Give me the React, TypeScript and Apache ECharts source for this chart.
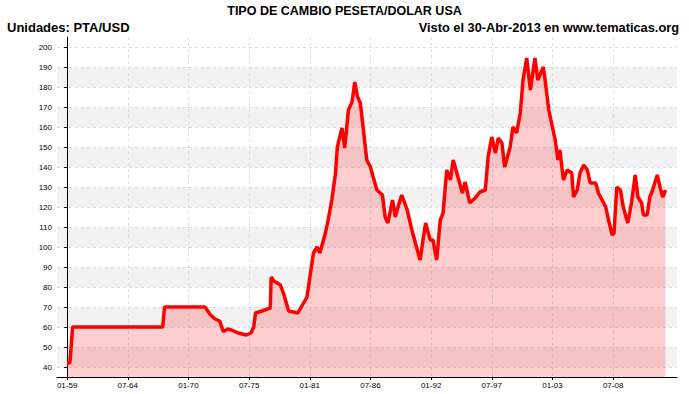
import React, { useEffect, useRef } from 'react';
import * as echarts from 'echarts';

const dates = [
  '1959-01','1959-04','1959-07','1967-09','1967-11','1971-07','1972-01','1972-06','1972-11','1973-03',
  '1973-08','1973-12','1974-07','1975-04','1975-09','1975-12','1976-02','1976-09','1977-06','1977-07',
  '1977-10','1978-05','1978-09','1979-02','1979-12','1980-05','1980-10','1981-01','1981-05','1981-09',
  '1981-12','1982-06','1982-09','1983-01','1983-05','1983-07','1983-12','1984-03','1984-07','1984-11',
  '1985-02','1985-05','1985-08','1985-11','1986-03','1986-07','1986-10','1987-02','1987-08','1987-11',
  '1988-02','1988-07','1988-10','1989-01','1989-05','1989-11','1990-04','1990-10','1991-01','1991-07',
  '1991-12','1992-03','1992-07','1992-11','1993-02','1993-06','1993-10','1994-01','1994-05','1994-11',
  '1995-02','1995-07','1996-01','1996-06','1996-12','1997-03','1997-07','1997-11','1998-02','1998-06',
  '1998-09','1999-03','1999-06','1999-10','2000-02','2000-05','2000-09','2001-01','2001-06','2001-09',
  '2002-03','2002-05','2002-09','2002-12','2003-04','2003-07','2003-09','2004-01','2004-05','2004-10',
  '2004-12','2005-04','2005-07','2005-11','2006-03','2006-06','2006-12','2007-03','2007-07','2007-11',
  '2008-02','2008-06','2008-08','2008-11','2009-03','2009-06','2009-11','2010-03','2010-07','2010-10',
  '2011-02','2011-04','2011-08','2011-11','2012-02','2012-07','2012-10','2013-01','2013-04'
];

const values = [
  42, 42, 60, 60, 70, 70, 66, 64, 63, 57.7,
  59, 58.5, 57, 56, 57, 60, 67, 68, 69.5, 85,
  83, 81, 76, 68, 67, 71, 75, 84.5, 97, 100,
  97, 107, 113.5, 123.5, 137, 150, 159.5, 149.5, 168.5, 172.5,
  182.5, 175, 172, 160, 143.5, 140, 135, 128.5, 126, 115,
  112, 123.5, 115, 120, 126, 118.5, 108.5, 98.5, 93.5, 112,
  103.5, 103.5, 93.5, 113.5, 117, 138.5, 133.5, 143.5, 137, 127,
  132.5, 122, 124.5, 127.5, 128.5, 145, 155, 147, 154.5, 152,
  140, 150, 160, 157, 167, 183.5, 194.5, 178.5, 194.5, 183.5,
  190, 183.5, 168.5, 162, 153.5, 143.5, 148.5, 133.5, 138.5, 137,
  125, 128.5, 137, 141, 138.5, 132, 132, 127, 123.5, 120,
  113.5, 106, 107, 130, 128.5, 120, 112, 122, 136, 125,
  122, 116, 116, 125, 128.5, 136, 130, 125, 128.5
];

const yTicks = [40, 50, 60, 70, 80, 90, 100, 110, 120, 130, 140, 150, 160, 170, 180, 190, 200];
const xTickLabels = ['01-59', '07-64', '01-70', '07-75', '01-81', '07-86', '01-92', '07-97', '01-03', '07-08'];

const monthIndex = (d: string) => {
  const [y, m] = d.split('-').map(Number);
  return (y - 1959) * 12 + (m - 1);
};
const xTickValues = xTickLabels.map((l) => {
  const [m, y] = l.split('-').map(Number);
  const year = y >= 50 ? 1900 + y : 2000 + y;
  return (year - 1959) * 12 + (m - 1);
});

export default function App() {
  const ref = useRef<HTMLDivElement>(null);
  useEffect(() => {
    if (!ref.current) return;
    const chart = echarts.init(ref.current, null, { renderer: 'svg' });
    const data = dates.map((d, i) => [monthIndex(d), values[i]]);
    const labelMap: Record<number, string> = {};
    xTickValues.forEach((v, i) => (labelMap[v] = xTickLabels[i]));
    const font = 'Liberation Sans, Arial, sans-serif';
    chart.setOption({
      animation: false,
      backgroundColor: '#ffffff',
      title: [
        { text: 'TIPO DE CAMBIO PESETA/DOLAR USA', left: 'center', top: 4, padding: 0,
          textStyle: { fontFamily: font, fontWeight: 'bold', fontSize: 12.5, color: '#000' } },
        { text: 'Unidades: PTA/USD', left: 7, top: 21, padding: 0,
          textStyle: { fontFamily: font, fontWeight: 'bold', fontSize: 13, color: '#000' } },
        { text: 'Visto el 30-Abr-2013 en www.tematicas.org', right: 10, top: 21, padding: 0,
          textStyle: { fontFamily: font, fontWeight: 'bold', fontSize: 12.8, color: '#000' } }
      ],
      grid: { left: 57, right: 12, top: 37, bottom: 17, containLabel: false },
      xAxis: {
        type: 'value',
        min: -11,
        max: 663.5,
        axisLine: { show: true, lineStyle: { color: '#000', width: 1 } },
        axisTick: { show: true, customValues: xTickValues, length: 3, lineStyle: { color: '#000' } },
        axisLabel: {
          customValues: xTickValues,
          formatter: (v: number) => labelMap[Math.round(v)] ?? '',
          fontFamily: font, fontSize: 8, color: '#000', margin: 4
        },
        splitLine: { show: true, lineStyle: { color: '#dddddd', type: [3, 3], width: 1 } }
      },
      yAxis: {
        type: 'value',
        min: 35,
        max: 205,
        axisLine: { show: true, lineStyle: { color: '#000', width: 1 } },
        axisTick: { show: true, customValues: yTicks, length: 3, lineStyle: { color: '#000' } },
        axisLabel: {
          customValues: yTicks,
          fontFamily: font, fontSize: 8, color: '#000', margin: 5
        },
        splitLine: { show: true, lineStyle: { color: '#dddddd', type: [3, 3], width: 1 } },
        splitArea: { show: true, areaStyle: { color: ['#f2f2f2', '#ffffff'] } }
      },
      series: [
        {
          type: 'line',
          data,
          symbol: 'none',
          smooth: false,
          lineStyle: { color: '#ff0000', width: 3.5 },
          areaStyle: { color: 'rgba(255,0,0,0.27)', origin: 'start' },
          z: 3
        }
      ]
    });
    return () => chart.dispose();
  }, []);
  return <div ref={ref} style={{ width: 689, height: 394, position: 'absolute', left: 0, top: 0 }} />;
}
